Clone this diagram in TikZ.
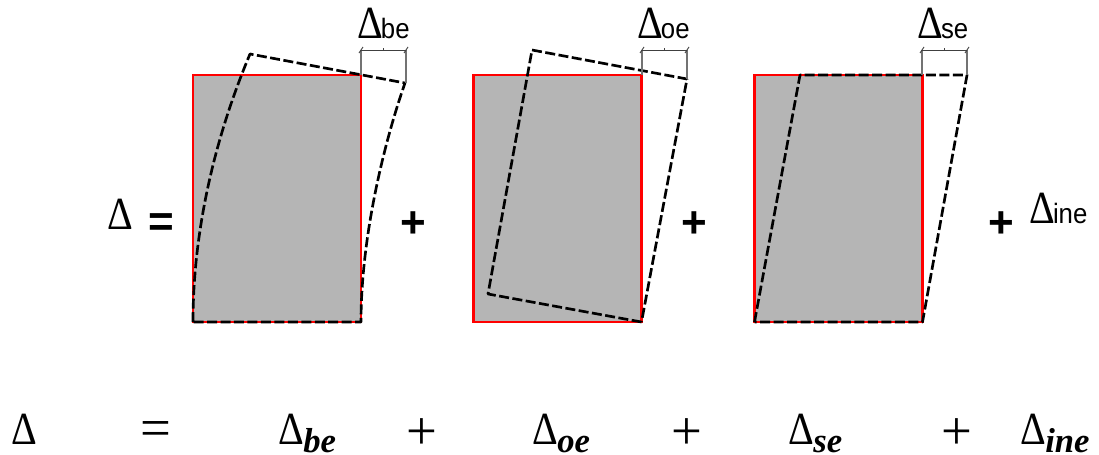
\documentclass[tikz,border=0pt]{standalone}
\usepackage{graphicx}
\usepackage{fontspec}
\setmainfont{Liberation Serif}
\newfontfamily\arialf{Liberation Sans}
\newcommand{\dl}{\scalebox{1}[1.15]{\fontsize{30pt}{30pt}\selectfont\symbol{"0394}}}
\newcommand{\toplab}[1]{\dl\kern-1.5pt{\arialf\fontsize{21pt}{21pt}\selectfont\scalebox{0.92}[1]{#1}}}
\newcommand{\botlab}[1]{\dl\kern-0.5pt\lower6.5pt\hbox{\fontsize{26pt}{26pt}\selectfont\bfseries\itshape #1}}
\tikzset{
  wall/.style={fill=black!29,draw=red,line width=2.1pt,line join=miter},
  defl/.style={draw=black,line width=2pt,dash pattern=on 7.5pt off 2.6pt,line join=round},
  ext/.style={draw=black!55,line width=0.8pt},
  dimln/.style={draw=black!75,line width=0.7pt},
  lab/.style={inner sep=0pt,anchor=base west},
  boldop/.style={inner sep=0pt,font=\arialf\bfseries\fontsize{33pt}{33pt}\selectfont},
  thinop/.style={inner sep=0pt,font=\fontsize{41pt}{41pt}\selectfont}
}
\newcommand{\dimbar}[3]{% x1, x2, y of the lower end of the right extension
  \draw[ext] (#1,50) -- (#1,75);
  \draw[ext] (#2,50) -- (#2,#3);
  \draw[dimln] (#1,50) -- (#2,50);
  \draw[dimln] (#1-2,53) -- (#1+2,47);
  \draw[dimln] (#2-2,53) -- (#2+2,47);
  \draw[dimln] ({(#1+#2)/2},50) -- ({(#1+#2)/2},48);
}
\begin{document}
\begin{tikzpicture}[x=0.75pt,y=-0.75pt]
\useasboundingbox (0,0) rectangle (1099,454);
% panel 1
\draw[wall] (193,75) rectangle (361,322);
\draw[defl] (193,322) .. controls (193,235) and (213,142) .. (250,54) -- (405,83) .. controls (385,140) and (361,235) .. (361,322) -- cycle;
\dimbar{361}{406}{83}
% panel 2
\draw[wall] (473.5,75) rectangle (641.5,322);
\draw[defl] (641.5,322) -- (488,294) -- (532,50) -- (687,79) -- cycle;
\dimbar{642}{687}{79}
% panel 3
\draw[wall] (754.5,75) rectangle (922.5,322);
\draw[defl] (754.5,322) -- (800,75) -- (967,75) -- (922.5,322) -- cycle;
\dimbar{922}{967}{75}
% labels in the upper row
\node[lab] (tbe) at (357,38.5) {\toplab{be}};
\node[lab] (toe) at (637,38.5) {\toplab{oe}};
\node[lab] (tse) at (917,38.5) {\toplab{se}};
\node[lab] (tdelta) at (107,229) {\dl};
\node[boldop] (teq) at (161.5,225) {=};
\node[boldop] (tp1) at (413.5,225) {+};
\node[boldop] (tp2) at (694,225) {+};
\node[boldop] (tp3) at (1001,225) {+};
\node[lab] (tine) at (1029,223) {\toplab{ine}};
% equation in the lower row
\node[lab] (bdelta) at (11,444) {\dl};
\node[thinop] (beq) at (155.5,434) {=};
\node[lab] (bbe) at (278,444) {\botlab{be}};
\node[thinop] (bp1) at (422,434) {+};
\node[lab] (boe) at (532,444) {\botlab{oe}};
\node[thinop] (bp2) at (687,434) {+};
\node[lab] (bse) at (788,444) {\botlab{se}};
\node[thinop] (bp3) at (957,434) {+};
\node[lab] (bine) at (1020,444) {\botlab{ine}};
\end{tikzpicture}
\end{document}
